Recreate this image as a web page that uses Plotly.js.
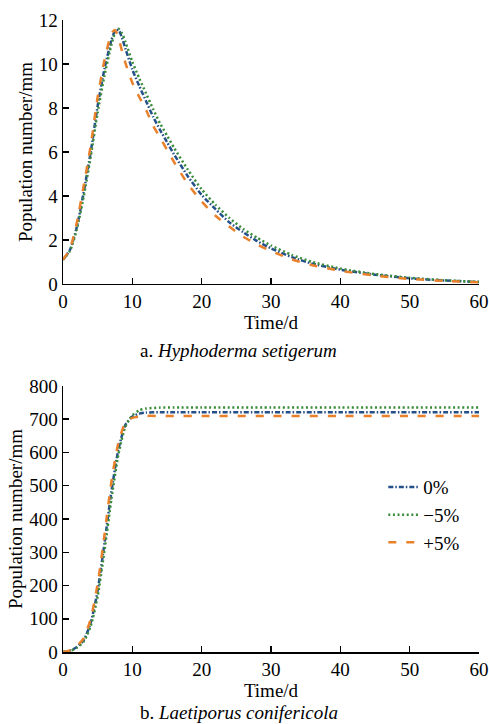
<!DOCTYPE html>
<html>
<head>
<meta charset="utf-8">
<script src="https://cdn.plot.ly/plotly-3.0.1.min.js"></script>
<style>
html,body{margin:0;padding:0;background:#fff;}
#chart{width:489px;height:724px;}
</style>
</head>
<body>
<div id="chart"></div>
<script>
// ---- Data (a) Hyphoderma setigerum ----
const timeA = [0,1,2,3,4,5,6,7,7.5,8,8.5,9,10,11,12,13,14,15,16,18,20,22,24,26,28,30,33,36,40,45,50,55,60];
const a_0   = [1.1,1.55,2.6,4.2,6.0,8.1,9.8,11.1,11.5,11.55,11.2,10.7,9.75,9.0,8.3,7.6,7.0,6.45,5.9,4.9,4.05,3.4,2.8,2.35,1.95,1.62,1.22,0.92,0.65,0.42,0.26,0.16,0.09];
const a_m5  = [1.1,1.5,2.5,4.0,5.8,7.8,9.5,10.9,11.4,11.6,11.4,11.0,10.1,9.35,8.65,7.95,7.3,6.75,6.2,5.2,4.3,3.6,3.0,2.5,2.1,1.75,1.32,1.0,0.7,0.45,0.28,0.17,0.1];
const a_p5  = [1.1,1.6,2.8,4.5,6.3,8.5,10.2,11.4,11.55,11.2,10.6,10.05,9.15,8.5,7.9,7.2,6.65,6.1,5.55,4.55,3.75,3.1,2.6,2.15,1.8,1.5,1.12,0.85,0.6,0.38,0.23,0.14,0.08];

// ---- Data (b) Laetiporus conifericola ----
const timeB = [0,1,2,3,4,5,6,7,8,9,10,11,12,14,16,20,30,40,50,60];
const b_0   = [0,4,15,36,88,185,330,485,610,683,708,717,720,721,721,721,721,721,721,721];
const b_m5  = [0,3,13,32,78,168,308,462,595,678,712,727,732,735,735,735,735,735,735,735];
const b_p5  = [0,5,18,42,100,205,355,515,630,690,704,708,710,710,710,710,710,710,710,710];

const seriesNames = ['0%','\u22125%','+5%'];
const tickVals = [0,10,20,30,40,50,60];
const captionA = 'a. <i>Hyphoderma setigerum</i>';
const captionB = 'b. <i>Laetiporus conifericola</i>';
const xTitle = 'Time/d';
const yTitle = 'Population number/mm';

const styles = [
  {color:'#24508a', dash:'5px,2px,1.5px,2px', width:2.5},
  {color:'#3a8c3a', dash:'2px,2.6px', width:2.5},
  {color:'#e8812a', dash:'8px,10px', width:2.5}
];

const FONT = 'Liberation Serif';

const traces = [];
[a_0,a_m5,a_p5].forEach((ys,i)=>{
  traces.push({x:timeA, y:ys, type:'scatter', mode:'lines', name:seriesNames[i],
    line:{color:styles[i].color, dash:styles[i].dash, width:styles[i].width, shape:'spline', smoothing:0.6},
    showlegend:false, xaxis:'x', yaxis:'y', hoverinfo:'skip'});
});
[b_0,b_m5,b_p5].forEach((ys,i)=>{
  traces.push({x:timeB, y:ys, type:'scatter', mode:'lines', name:seriesNames[i],
    line:{color:styles[i].color, dash:styles[i].dash, width:styles[i].width, shape:'spline', smoothing:0.6},
    showlegend:true, xaxis:'x2', yaxis:'y2', hoverinfo:'skip'});
});

const axCommon = {
  showgrid:false, zeroline:false, showline:true, linecolor:'#000', linewidth:1.5,
  ticks:'inside', ticklen:6, tickwidth:1.5, tickcolor:'#000',
  tickfont:{family:FONT, size:19, color:'#000'}, mirror:false
};

const layout = {
  width:489, height:724,
  margin:{l:63, r:10, t:20, b:72},
  paper_bgcolor:'#fff', plot_bgcolor:'#fff',
  font:{family:FONT, size:19, color:'#000'},
  xaxis: Object.assign({}, axCommon, {domain:[0,1], range:[0,60], tickvals:tickVals, anchor:'y',
    title:{text:xTitle, font:{family:FONT,size:19}, standoff:2}}),
  yaxis: Object.assign({}, axCommon, {domain:[0.5823,1], range:[0,12], tickvals:[0,2,4,6,8,10,12], anchor:'x',
    title:{text:yTitle, font:{family:FONT,size:19}, standoff:1}}),
  xaxis2: Object.assign({}, axCommon, {domain:[0,1], range:[0,60], tickvals:tickVals, anchor:'y2',
    title:{text:xTitle, font:{family:FONT,size:19}, standoff:2}}),
  yaxis2: Object.assign({}, axCommon, {domain:[0,0.4209], range:[0,800], tickvals:[0,100,200,300,400,500,600,700,800], anchor:'x2',
    title:{text:yTitle, font:{family:FONT,size:19}, standoff:1}}),
  showlegend:true,
  legend:{x:0.77, y:0.291, xanchor:'left', yanchor:'top', bgcolor:'rgba(0,0,0,0)',
    font:{family:FONT, size:19, color:'#000'}, tracegroupgap:0, itemwidth:30},
  annotations:[
    {text:captionA, xref:'paper', yref:'paper', x:0.423, y:(652-350)/632, xanchor:'center', yanchor:'middle', showarrow:false, font:{family:FONT,size:19,color:'#000'}},
    {text:captionB, xref:'paper', yref:'paper', x:0.423, y:(652-712)/632, xanchor:'center', yanchor:'middle', showarrow:false, font:{family:FONT,size:19,color:'#000'}}
  ]
};

Plotly.newPlot('chart', traces, layout, {displayModeBar:false, staticPlot:true});
</script>
</body>
</html>
